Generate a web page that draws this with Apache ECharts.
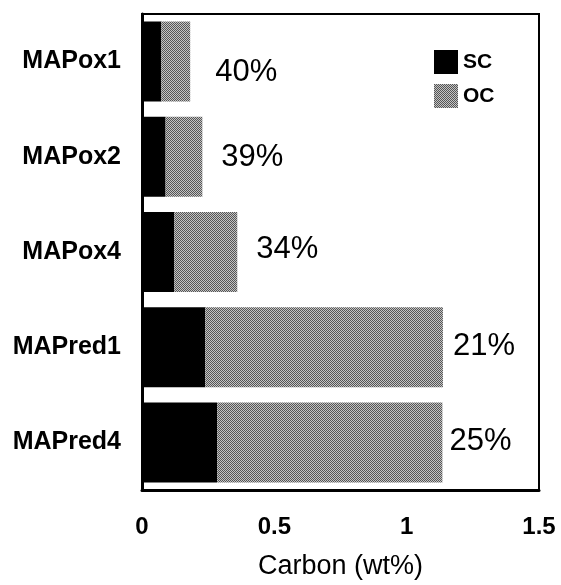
<!DOCTYPE html>
<html>
<head>
<meta charset="utf-8">
<script src="https://cdn.jsdelivr.net/npm/echarts@6/dist/echarts.min.js"></script>
<style>
html,body{margin:0;padding:0;background:#fff;}
#chart{width:561px;height:585px;}
</style>
</head>
<body>
<div id="chart"></div>
<script>
// ---- data ----
const categories = ['MAPox1', 'MAPox2', 'MAPox4', 'MAPred1', 'MAPred4'];
const scValues = [0.073, 0.089, 0.122, 0.239, 0.284];
const ocValues = [0.109, 0.139, 0.238, 0.898, 0.851];
const pctLabels = ['40%', '39%', '34%', '21%', '25%'];
const xTicks = [0, 0.5, 1, 1.5];

// ---- layout (label offsets, not data) ----
const pctLabelOffsets = [[25, 11], [19, 1], [19, -3], [10, -1], [7, -1]];

// dithered grey pattern for OC
const pat = document.createElement('canvas');
pat.width = 2; pat.height = 2;
const pctx = pat.getContext('2d');
pctx.fillStyle = '#c4c4c4'; pctx.fillRect(0, 0, 2, 2);
pctx.fillStyle = '#555555'; pctx.fillRect(0, 0, 1, 1); pctx.fillRect(1, 1, 1, 1);
const ocColor = { image: pat, repeat: 'repeat' };

const chart = echarts.init(document.getElementById('chart'), null, { renderer: 'canvas' });
const option = {
  animation: false,
  backgroundColor: '#fff',
  grid: {
    left: 142, right: 22, top: 14, bottom: 89,
    show: true, borderColor: '#000', borderWidth: 2, containLabel: false
  },
  legend: {
    orient: 'vertical',
    left: 429, top: 45,
    itemWidth: 24, itemHeight: 24, itemGap: 10,
    icon: 'rect',
    textStyle: { fontFamily: 'Liberation Sans', fontWeight: 'bold', fontSize: 21, color: '#000' },
    data: ['SC', 'OC']
  },
  xAxis: {
    type: 'value',
    min: xTicks[0], max: xTicks[xTicks.length - 1], interval: 0.5,
    name: 'Carbon (wt%)', nameLocation: 'middle', nameGap: 63,
    nameTextStyle: { fontFamily: 'Liberation Sans', fontSize: 27, color: '#000' },
    axisLine: { show: true, lineStyle: { color: '#000', width: 3 } },
    axisTick: { show: false },
    splitLine: { show: false },
    axisLabel: {
      margin: 25, color: '#000', fontFamily: 'Liberation Sans', fontWeight: 'bold', fontSize: 24,
      formatter: v => String(v)
    }
  },
  yAxis: {
    type: 'category', inverse: true, data: categories,
    axisLine: { show: true, lineStyle: { color: '#000', width: 3 } },
    axisTick: { show: false },
    axisLabel: {
      margin: 21, color: '#000', fontFamily: 'Liberation Sans', fontWeight: 'bold', fontSize: 25,
      padding: [0, 0, 8, 0]
    }
  },
  series: [
    {
      name: 'SC', type: 'bar', stack: 'c', barWidth: 80,
      itemStyle: { color: '#000' },
      data: scValues
    },
    {
      name: 'OC', type: 'bar', stack: 'c', barWidth: 80,
      itemStyle: { color: ocColor },
      data: ocValues.map((v, i) => ({
        value: v,
        label: {
          show: true, position: 'right', distance: 0,
          offset: pctLabelOffsets[i],
          formatter: pctLabels[i],
          fontFamily: 'Liberation Sans', fontSize: 31, color: '#000'
        }
      }))
    }
  ]
};
chart.setOption(option);
</script>
</body>
</html>
